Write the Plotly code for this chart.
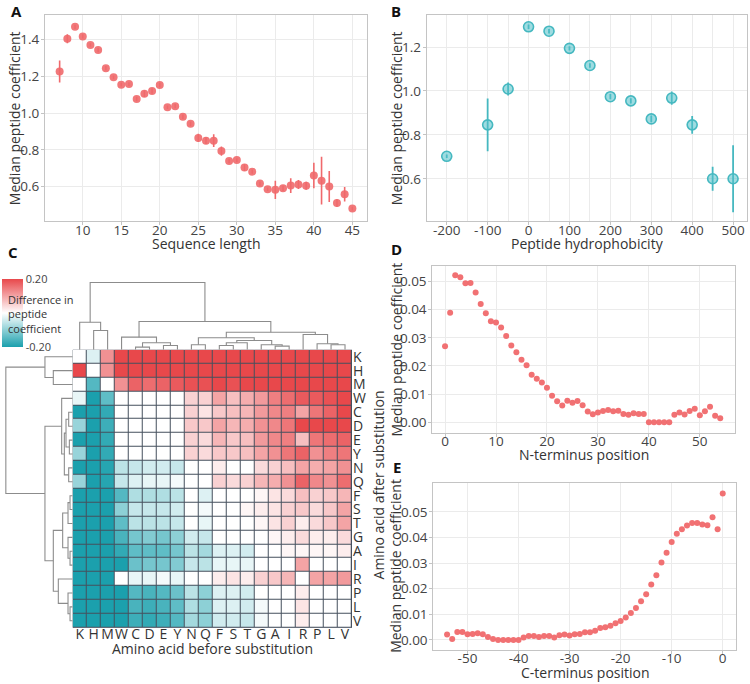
import plotly.graph_objects as go

W, H = 750, 684
def fx(p): return p / W
def fy(p): return 1 - p / H

# ---------------- Panel A data ----------------
seq_len = list(range(7, 46))
seq_coef = [1.227, 1.405, 1.470, 1.418, 1.371, 1.344, 1.245, 1.195, 1.155, 1.158,
            1.077, 1.106, 1.120, 1.153, 1.032, 1.038, 0.980, 0.942, 0.865, 0.850,
            0.850, 0.793, 0.739, 0.744, 0.703, 0.681, 0.616, 0.585, 0.582, 0.591,
            0.605, 0.611, 0.604, 0.660, 0.632, 0.600, 0.510, 0.558, 0.480]
seq_err = [0.060, 0.025, 0.012, 0.012, 0.010, 0.012, 0.012, 0.010, 0.010, 0.010,
           0.012, 0.018, 0.015, 0.012, 0.010, 0.012, 0.012, 0.012, 0.022, 0.018,
           0.035, 0.025, 0.012, 0.010, 0.018, 0.012, 0.012, 0.010, 0.050, 0.015,
           0.040, 0.025, 0.022, 0.070, 0.130, 0.085, 0.020, 0.040, 0.010]
a_xticks = [10, 15, 20, 25, 30, 35, 40, 45]
a_yticks = [0.6, 0.8, 1.0, 1.2, 1.4]

# ---------------- Panel B data ----------------
hydro = [-200, -100, -50, 0, 50, 100, 150, 200, 250, 300, 350, 400, 450, 500]
hydro_coef = [0.703, 0.846, 1.009, 1.292, 1.272, 1.194, 1.116, 0.974, 0.955, 0.873,
              0.968, 0.846, 0.601, 0.601]
hydro_err = [0.008, 0.120, 0.030, 0.010, 0.010, 0.010, 0.010, 0.012, 0.012, 0.015,
             0.030, 0.040, 0.055, 0.152]
b_xticks = [-200, -100, 0, 100, 200, 300, 400, 500]
b_yticks = [0.6, 0.8, 1.0, 1.2]

# ---------------- Panel C data ----------------
aa_cols = ["K", "H", "M", "W", "C", "D", "E", "Y", "N", "Q", "F", "S", "T", "G", "A", "I", "R", "P", "L", "V"]
aa_rows = ["K", "H", "M", "W", "C", "D", "E", "Y", "N", "Q", "F", "S", "T", "G", "A", "I", "R", "P", "L", "V"]
diff = [
    [0, -0.03, 0.12, 0.2, 0.2, 0.2, 0.2, 0.2, 0.2, 0.2, 0.2, 0.2, 0.2, 0.2, 0.2, 0.2, 0.2, 0.2, 0.2, 0.2],
    [0.2, 0, 0.12, 0.2, 0.2, 0.2, 0.2, 0.2, 0.2, 0.2, 0.2, 0.2, 0.2, 0.2, 0.2, 0.2, 0.2, 0.2, 0.2, 0.2],
    [0, -0.15, 0, 0.12, 0.17, 0.16, 0.17, 0.18, 0.19, 0.19, 0.2, 0.19, 0.2, 0.2, 0.2, 0.2, 0.2, 0.2, 0.2, 0.2],
    [-0.02, -0.2, -0.14, 0, 0, 0, 0, 0, 0.05, 0.05, 0.1, 0.07, 0.09, 0.11, 0.14, 0.16, 0.18, 0.18, 0.19, 0.2],
    [-0.2, -0.2, -0.18, 0, 0, 0, 0, 0, 0.05, 0.03, 0.06, 0.07, 0.08, 0.11, 0.13, 0.14, 0.1, 0.15, 0.17, 0.2],
    [-0.09, -0.2, -0.17, 0, 0, 0, 0, 0, 0.06, 0.06, 0.1, 0.08, 0.09, 0.12, 0.13, 0.15, 0.2, 0.2, 0.2, 0.2],
    [-0.2, -0.2, -0.18, 0, 0, 0, 0, 0, 0.05, 0.04, 0.08, 0.06, 0.07, 0.11, 0.13, 0.14, 0.07, 0.15, 0.16, 0.17],
    [-0.09, -0.2, -0.18, 0, 0, 0, 0, 0, 0.05, 0.04, 0.06, 0.06, 0.07, 0.1, 0.12, 0.15, 0.17, 0.12, 0.14, 0.15],
    [-0.2, -0.2, -0.19, -0.06, -0.05, -0.04, -0.04, -0.05, 0, 0, 0.02, 0, 0, 0.04, 0.05, 0.07, 0.1, 0.09, 0.1, 0.12],
    [-0.09, -0.2, -0.19, -0.05, -0.03, -0.02, -0.02, -0.01, 0, 0, 0.05, 0.04, 0.05, 0.08, 0.09, 0.12, 0.17, 0.13, 0.12, 0.16],
    [-0.2, -0.2, -0.2, -0.15, -0.07, -0.07, -0.07, -0.06, 0, -0.03, 0, 0, 0, 0.01, 0.03, 0.04, 0.07, 0.05, 0.06, 0.08],
    [-0.2, -0.2, -0.2, -0.1, -0.05, -0.05, -0.05, -0.04, 0, -0.01, 0, 0, 0.01, 0.02, 0.03, 0.05, 0.06, 0.04, 0.06, 0.1],
    [-0.2, -0.2, -0.2, -0.14, -0.06, -0.06, -0.06, -0.05, 0, -0.02, 0, 0, 0, 0.01, 0.03, 0.05, 0.02, 0.04, 0.06, 0.1],
    [-0.2, -0.2, -0.2, -0.16, -0.12, -0.11, -0.12, -0.1, -0.04, -0.05, 0, 0, 0, 0, 0.01, 0.02, 0.04, 0.02, 0.02, 0.04],
    [-0.2, -0.2, -0.2, -0.18, -0.14, -0.14, -0.14, -0.12, -0.06, -0.08, -0.03, -0.03, -0.04, 0, 0, 0.01, 0.01, 0.01, 0.01, 0.02],
    [-0.2, -0.2, -0.2, -0.2, -0.13, -0.12, -0.12, -0.11, -0.05, -0.06, -0.02, -0.02, -0.02, 0, 0, 0, 0.1, 0, 0, 0],
    [-0.2, -0.2, -0.2, 0, -0.02, -0.02, -0.01, -0.02, 0, 0, 0.02, 0.03, 0.02, 0.05, 0.06, 0.08, 0, 0.1, 0.1, 0.11],
    [-0.2, -0.2, -0.2, -0.2, -0.15, -0.16, -0.15, -0.13, -0.06, -0.1, -0.03, -0.03, -0.04, 0, 0, 0, 0.02, 0, 0, 0],
    [-0.2, -0.2, -0.2, -0.2, -0.16, -0.17, -0.16, -0.14, -0.07, -0.1, -0.03, -0.03, -0.04, -0.01, 0, 0, 0.03, 0, 0, 0],
    [-0.2, -0.2, -0.2, -0.2, -0.17, -0.18, -0.17, -0.15, -0.08, -0.1, -0.04, -0.04, -0.05, -0.01, 0, 0, 0.02, 0, 0, 0],
]
cbar_ticks = [-0.2, 0.2]
cbar_labels = ["-0.20", "0.20"]
# dendrograms: (left, right, merge height)
col_tree = (("K", ("H", "M", 58), 83),
            (("W", (("C", "D", 8), ("E", "Y", 13), 21), 38),
             ((("N", "Q", 15), ((("F", "S", 13), "T", 21), ("G", ("A", "I", 11), 15), 28), 36),
              ("R", ("P", ("L", "V", 15), 18), 46), 53), 85), 203)
row_tree = (("K", ("H", "M", 58), 83),
            (("W", ((("C", "D", 12), ("E", "Y", 10), 20), ("N", "Q", 12), 25), 33),
             (((("F", "S", 8), "T", 14), ("G", ("A", "I", 8), 14), 30),
              ("R", ("P", ("L", "V", 8), 14), 43), 58), 83), 200)

# ---------------- Panel D / E data ----------------
n_pos = list(range(0, 55))
n_coef = [0.027, 0.0389, 0.0522, 0.0515, 0.0494, 0.0495, 0.0461, 0.042, 0.0387, 0.0359,
          0.0354, 0.0337, 0.0306, 0.0273, 0.0249, 0.0222, 0.0202, 0.0169, 0.0154, 0.0141,
          0.0122, 0.0094, 0.0074, 0.0059, 0.0076, 0.0069, 0.0075, 0.006, 0.0038, 0.0028,
          0.0034, 0.004, 0.0043, 0.0039, 0.0041, 0.0029, 0.0026, 0.0032, 0.0029, 0.0029,
          0, 0, 0, 0, 0, 0.0026, 0.0034, 0.0027, 0.004, 0.0048,
          0.0025, 0.0039, 0.0055, 0.0023, 0.0014]
c_pos = list(range(-54, 1))
c_coef = [0.0021, 0.0004, 0.0031, 0.0031, 0.0022, 0.0023, 0.0026, 0.0022, 0.0012, 0.0004,
          0, 0, 0, 0, 0, 0.001, 0.0015, 0.0015, 0.0012, 0.0015,
          0.0015, 0.001, 0.0018, 0.0021, 0.0017, 0.0022, 0.0023, 0.003, 0.003, 0.0036,
          0.0047, 0.005, 0.0055, 0.0065, 0.0074, 0.0088, 0.0105, 0.0125, 0.0151, 0.0179,
          0.0217, 0.0253, 0.0303, 0.0341, 0.0383, 0.0415, 0.0432, 0.0447, 0.0457, 0.0457,
          0.0451, 0.0448, 0.0479, 0.0432, 0.0572]
d_xticks = [0, 10, 20, 30, 40, 50]
e_xticks = [-50, -40, -30, -20, -10, 0]
de_yticks = [0, 0.01, 0.02, 0.03, 0.04, 0.05]

# ---------------- styling ----------------
FONT = "Open Sans"
RED = "#F0696C"
TEAL = "#45B8C0"
GRID = "#EBEBEB"
BORDER = "#C4C4C4"
TICKC = "#444444"
TITLEC = "#333333"

def dendro(tree, order):
    pos = {k: i for i, k in enumerate(order)}
    xs, hs = [], []
    def rec(node):
        if isinstance(node, str):
            return pos[node], 0.0
        l, r, h = node
        xl, hl = rec(l)
        xr, hr = rec(r)
        xs.extend([xl, xl, xr, xr, None])
        hs.extend([hl, h, h, hr, None])
        return (xl + xr) / 2, h
    rec(tree)
    return xs, hs

fig = go.Figure()

fig.add_trace(go.Scatter(x=seq_len, y=seq_coef, mode="markers",
                         marker=dict(color=RED, size=8, opacity=0.9),
                         error_y=dict(type="data", array=seq_err, color=RED, thickness=1.6, width=0),
                         xaxis="x", yaxis="y", showlegend=False))
fig.add_trace(go.Scatter(x=hydro, y=hydro_coef, mode="markers",
                         marker=dict(color="rgba(80,192,200,0.55)", size=10, line=dict(color=TEAL, width=1.6)),
                         error_y=dict(type="data", array=hydro_err, color=TEAL, thickness=1.8, width=0),
                         xaxis="x2", yaxis="y2", showlegend=False))
fig.add_trace(go.Scatter(x=n_pos, y=n_coef, mode="markers",
                         marker=dict(color=RED, size=6, opacity=0.95),
                         xaxis="x3", yaxis="y3", showlegend=False))
fig.add_trace(go.Scatter(x=c_pos, y=c_coef, mode="markers",
                         marker=dict(color=RED, size=6, opacity=0.95),
                         xaxis="x4", yaxis="y4", showlegend=False))

fig.add_trace(go.Heatmap(z=diff, x=aa_cols, y=aa_rows, zmin=-0.2, zmax=0.2,
                         colorscale=[[0, "#1BA0AD"], [0.5, "#FFFFFF"], [1, "#E8484B"]],
                         xgap=1, ygap=1, xaxis="x5", yaxis="y5",
                         colorbar=dict(x=fx(1.7), xanchor="left", y=fy(312), yanchor="middle",
                                       len=68, lenmode="pixels", thickness=21, thicknessmode="pixels",
                                       outlinewidth=0, xpad=0, ypad=0,
                                       tickvals=cbar_ticks, ticktext=cbar_labels,
                                       ticks="", tickfont=dict(family=FONT, size=11, color=TICKC))))

cx, ch = dendro(col_tree, aa_cols)
fig.add_trace(go.Scatter(x=cx, y=ch, mode="lines", line=dict(color="#8C8C8C", width=1.1),
                         xaxis="x6", yaxis="y6", showlegend=False, hoverinfo="skip"))
ry, rh = dendro(row_tree, aa_rows)
fig.add_trace(go.Scatter(x=rh, y=ry, mode="lines", line=dict(color="#8C8C8C", width=1.1),
                         xaxis="x7", yaxis="y7", showlegend=False, hoverinfo="skip"))

def sci_axis(domain, rng, tickvals, fmt, anchor, minor=None, is_x=True):
    d = dict(domain=domain, range=rng, showgrid=True, gridcolor=GRID, gridwidth=1,
             zeroline=False, showline=True, mirror=True, linecolor=BORDER, linewidth=1,
             ticks="outside", ticklen=3, tickcolor=BORDER,
             tickfont=dict(family=FONT, size=13.5, color=TICKC), anchor=anchor,
             tickmode="array", tickvals=tickvals, ticktext=[format(v, fmt) for v in tickvals])
    d["ticklabelstandoff"] = -7 if is_x else -1
    if minor:
        d["minor"] = minor
    return d

n_idx = len(aa_cols)
layout = dict(
    width=W, height=H, margin=dict(l=0, r=0, t=0, b=0),
    paper_bgcolor="white", plot_bgcolor="white",
    font=dict(family=FONT, color=TITLEC),
    xaxis=sci_axis([fx(45), fx(367)], [5.1, 46.9], a_xticks, "d", "y"),
    yaxis=sci_axis([fy(220), fy(12)], [0.41, 1.535], a_yticks, ".1f", "x", is_x=False),
    xaxis2=sci_axis([fx(426.7), fx(747)], [-249, 534], b_xticks, "d", "y2",
                    minor=dict(dtick=50, tick0=0, showgrid=True, gridcolor=GRID, ticks="")),
    yaxis2=sci_axis([fy(220), fy(12)], [0.407, 1.346], b_yticks, ".1f", "x2", is_x=False),
    xaxis3=sci_axis([fx(432.3), fx(735)], [-2.5, 56.9], d_xticks, "d", "y3"),
    yaxis3=sci_axis([fy(433.3), fy(265)], [-0.0039, 0.0555], de_yticks, ".2f", "x3", is_x=False),
    xaxis4=sci_axis([fx(433.3), fx(736)], [-56.7, 2.6], e_xticks, "d", "y4"),
    yaxis4=sci_axis([fy(651.7), fy(483.3)], [-0.0039, 0.0614], de_yticks, ".2f", "x4", is_x=False),
    xaxis5=dict(domain=[fx(72.7), fx(352)], range=[-0.5, n_idx - 0.5], anchor="y5", showgrid=False,
                zeroline=False, ticks="", showline=False, tickmode="array", tickvals=aa_cols,
                ticktext=aa_cols, tickangle=0, ticklabelstandoff=-4,
                tickfont=dict(family=FONT, size=14, color=TITLEC)),
    yaxis5=dict(domain=[fy(629.3), fy(349.3)], range=[n_idx - 0.5, -0.5], anchor="x5", side="right",
                showgrid=False, zeroline=False, ticks="", showline=False, tickmode="array",
                tickvals=aa_rows, ticktext=aa_rows, tickfont=dict(family=FONT, size=14, color=TITLEC)),
    xaxis6=dict(domain=[fx(72.7), fx(352)], range=[-0.5, n_idx - 0.5], anchor="y6", visible=False),
    yaxis6=dict(domain=[fy(349.3), fy(280.5)], range=[0, 206], anchor="x6", visible=False),
    xaxis7=dict(domain=[fx(4.5), fx(72.7)], range=[204, 0], anchor="y7", visible=False),
    yaxis7=dict(domain=[fy(629.3), fy(349.3)], range=[n_idx - 0.5, -0.5], anchor="x7", visible=False),
    shapes=[dict(type="rect", xref="x5", yref="y5", x0=-0.5, x1=n_idx - 0.5, y0=-0.5, y1=n_idx - 0.5,
                 fillcolor="#46505E", line=dict(color="#46505E", width=1), layer="below")],
)
fig.update_layout(**layout)

def ann(text, x, y, size=14, angle=0, bold=False, xanchor="center", align="center"):
    fig.add_annotation(text=f"<b>{text}</b>" if bold else text, x=fx(x), y=fy(y),
                       xref="paper", yref="paper", showarrow=False, textangle=angle,
                       xanchor=xanchor, yanchor="middle", align=align,
                       font=dict(family=FONT, size=size, color="#111111" if bold else TITLEC))

ann("A", 16.5, 8, 15, bold=True)
ann("B", 396, 8, 15, bold=True)
ann("C", 13, 250.5, 15, bold=True)
ann("D", 396, 247.5, 15, bold=True)
ann("E", 397, 467, 15, bold=True)

ann("Sequence length", 206, 242)
ann("Median peptide coefficient", 14, 116, angle=-90)
ann("Peptide hydrophobicity", 587, 242)
ann("Median peptide coefficient", 396, 116, angle=-90)
ann("N-terminus position", 584, 455)
ann("Median peptide coefficient", 396, 349, angle=-90)
ann("C-terminus position", 585, 674)
ann("Median peptide coefficient", 396, 567, angle=-90)
ann("Amino acid before substitution", 212, 650)
ann("Amino acid after substitution", 378, 486, angle=-90)
ann("Difference in<br>peptide<br>coefficient", 6, 313, 11, xanchor="left", align="left")

fig.write_html("out.html", config={"displayModeBar": False},
               post_script="document.body.style.margin='0px';document.body.style.overflow='hidden';")
